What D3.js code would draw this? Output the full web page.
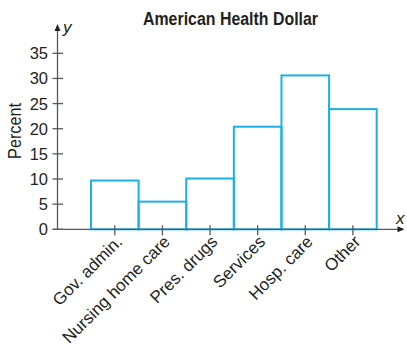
<!DOCTYPE html>
<html><head><meta charset="utf-8">
<script src="https://cdn.jsdelivr.net/npm/d3@7"></script>
<style>
html,body{margin:0;padding:0;background:#fff;}
svg{display:block;}
text{font-family:"Liberation Sans",Arial,sans-serif;fill:#231f20;}
</style></head>
<body>
<svg id="c" width="407" height="352"></svg>
<script>
const categories = ["Gov. admin.", "Nursing home care", "Pres. drugs", "Services", "Hosp. care", "Other"];
const values = [9.7, 5.5, 10.1, 20.4, 30.6, 23.9];
const yTicks = [0, 5, 10, 15, 20, 25, 30, 35];
const title = "American Health Dollar";
const yLabel = "Percent";

const svg = d3.select("#c");
const axisColor = "#58595b";
const barColor = "#1cb0e6";

const y = d3.scaleLinear().domain([0, 35]).range([229.3, 53.3]);
const x = d3.scaleBand().domain(categories).range([91, 376.7]).padding(0);
const axisX = 57.5;

// bars
svg.append("g").selectAll("rect").data(categories).join("rect")
  .attr("x", d => x(d))
  .attr("y", (d, i) => y(values[i]))
  .attr("width", x.bandwidth())
  .attr("height", (d, i) => y(0) - y(values[i]))
  .attr("fill", "none")
  .attr("stroke", barColor)
  .attr("stroke-width", 2);

// y axis
svg.append("line").attr("x1", axisX).attr("x2", axisX).attr("y1", y(0)).attr("y2", 28)
  .attr("stroke", axisColor).attr("stroke-width", 1.3);
svg.append("path").attr("d", `M${axisX},24 L${axisX-3},31 L${axisX+3},31 Z`).attr("fill", "#231f20");
const yg = svg.append("g");
yg.selectAll("line").data(yTicks).join("line")
  .attr("x1", 52.5).attr("x2", 63).attr("y1", d => y(d)).attr("y2", d => y(d))
  .attr("stroke", axisColor).attr("stroke-width", 1.3);
yg.selectAll("text").data(yTicks).join("text")
  .attr("x", 48).attr("y", d => y(d)).attr("dy", "0.36em")
  .attr("text-anchor", "end").attr("font-size", 16.5).text(d => d);

// x axis
svg.append("line").attr("x1", 52.5).attr("x2", 400).attr("y1", y(0)).attr("y2", y(0))
  .attr("stroke", axisColor).attr("stroke-width", 1.3);
svg.append("path").attr("d", `M404.5,${y(0)} L397.5,${y(0)-3} L397.5,${y(0)+3} Z`).attr("fill", "#231f20");
const xg = svg.append("g");
xg.selectAll("line").data(categories).join("line")
  .attr("x1", d => x(d) + x.bandwidth()/2).attr("x2", d => x(d) + x.bandwidth()/2)
  .attr("y1", y(0) - 4).attr("y2", y(0) + 6)
  .attr("stroke", axisColor).attr("stroke-width", 1.3);
xg.selectAll("text").data(categories).join("text")
  .attr("transform", d => `translate(${x(d) + x.bandwidth()/2 + 8.5},${y(0) + 13.5}) rotate(-45)`)
  .attr("text-anchor", "end").attr("font-size", 17).text(d => d);

// axis letters
svg.append("text").attr("x", 63).attr("y", 33).attr("font-size", 17).attr("font-style", "italic").text("y");
svg.append("text").attr("x", 396).attr("y", 224).attr("font-size", 17).attr("font-style", "italic").text("x");

// title
svg.append("text").attr("transform", "translate(230.5,25) scale(0.86,1)").attr("text-anchor", "middle")
  .attr("font-size", 18.5).attr("font-weight", "bold").text(title);

// y label
svg.append("text").attr("transform", "translate(20.5,131) rotate(-90) scale(0.9,1)")
  .attr("text-anchor", "middle").attr("font-size", 18).text(yLabel);
</script>
</body></html>
